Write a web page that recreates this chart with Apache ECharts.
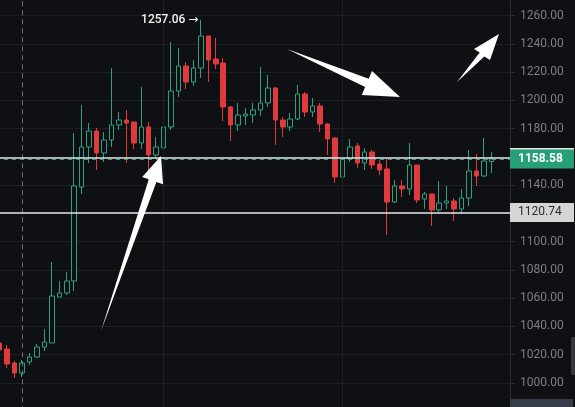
<!DOCTYPE html>
<html><head><meta charset="utf-8">
<script src="https://cdn.jsdelivr.net/npm/echarts@6/dist/echarts.min.js"></script>
<style>html,body{margin:0;padding:0;background:#0f1013;}#c{width:575px;height:407px;}</style>
</head><body><div id="c"></div>
<script>
const categories = ['1','2','3','4','5','6','7','8','9','10','11','12','13','14','15','16','17','18','19','20',
'21','22','23','24','25','26','27','28','29','30','31','32','33','34','35','36','37','38','39','40',
'41','42','43','44','45','46','47','48','49','50','51','52','53','54','55','56','57','58','59','60',
'61','62','63','64','65','66','67','68','69'];

const openV = [1028.31,1024.07,1014.16,1007.08,1014.87,1018.40,1025.48,1028.31,1060.88,1063.71,
1072.20,1138.74,1167.06,1178.38,1162.81,1172.01,1182.63,1186.17,1184.75,1169.89,
1181.21,1161.39,1166.35,1181.21,1206.70,1224.39,1213.07,1222.98,1245.63,1229.35,
1226.52,1195.37,1182.63,1189.00,1189.71,1193.25,1198.20,1208.82,1186.17,1181.21,
1186.88,1204.57,1191.83,1196.08,1183.34,1173.43,1145.82,1158.56,1167.77,1155.73,
1163.52,1155.02,1151.48,1128.12,1139.45,1137.33,1154.32,1130.25,1133.79,1122.46,
1127.42,1128.83,1123.17,1130.96,1150.07,1146.53,1156.79];

const closeV = [1023.36,1013.45,1007.08,1014.16,1018.40,1025.48,1029.02,1061.58,1063.71,1072.20,
1139.45,1167.06,1178.38,1162.81,1172.01,1182.63,1186.17,1184.05,1169.89,1181.21,
1161.39,1167.06,1181.21,1206.70,1224.39,1213.07,1222.98,1245.63,1228.64,1225.81,
1195.37,1182.63,1189.71,1190.42,1193.25,1198.20,1208.82,1186.17,1181.21,1186.88,
1204.57,1191.83,1196.08,1183.34,1172.72,1145.82,1158.56,1167.06,1155.73,1163.52,
1154.32,1150.78,1128.12,1139.45,1137.33,1154.32,1129.54,1133.79,1122.46,1127.42,
1128.83,1123.17,1130.96,1150.07,1146.53,1157.15,1158.58];

const lowV = [1021.94,1010.62,1003.54,1004.25,1012.74,1017.70,1022.65,1028.31,1060.88,1062.29,
1065.12,1133.79,1155.73,1150.78,1156.44,1167.06,1179.09,1155.73,1165.64,1165.64,
1143.70,1159.98,1164.93,1179.09,1202.45,1208.11,1210.24,1215.90,1213.07,1222.27,
1185.46,1171.30,1178.38,1182.63,1184.05,1189.00,1195.37,1168.47,1174.14,1178.38,
1186.17,1188.29,1188.29,1177.68,1161.39,1141.57,1145.11,1156.44,1152.19,1150.78,
1151.48,1147.24,1104.76,1127.42,1131.66,1133.08,1127.42,1123.17,1111.14,1121.05,
1123.17,1114.67,1119.63,1125.29,1139.45,1145.82,1148.65];

const highV = [1030.44,1026.90,1015.57,1016.28,1021.24,1027.61,1038.23,1085.65,1072.20,1078.57,
1176.97,1196.79,1184.05,1180.51,1177.68,1222.98,1191.83,1193.25,1184.75,1209.53,
1184.75,1174.14,1184.75,1241.38,1237.14,1227.23,1228.64,1257.06,1245.63,1244.22,
1230.06,1196.08,1198.20,1194.66,1198.20,1223.69,1218.02,1209.53,1188.29,1191.12,
1210.95,1205.99,1201.74,1198.20,1184.05,1174.14,1163.52,1172.72,1169.89,1166.35,
1164.93,1157.85,1158.56,1143.70,1143.70,1169.89,1154.32,1135.20,1133.79,1142.99,
1139.45,1130.96,1137.33,1164.93,1162.10,1173.43,1163.52];

const yMin = 980, yMax = 1280, yStep = 20;
const lastPrice = 1158.58;
const upperLevel = 1159.6;
const lowerLevel = 1120.74;
const crosshairIndex = 3;
const verticalGridIndices = [22, 46];

const BG = '#0f1013';
const UP = '#2fa07f';
const DOWN = '#df3a3e';
const FONT = 'Roboto, "DejaVu Sans", sans-serif';

const candleData = openV.map((o, i) => [o, closeV[i], lowV[i], highV[i]]);

const chart = echarts.init(document.getElementById('c'), null, {renderer: 'canvas'});

const priceLabel = (bg, fg, bold) => ({
  show: true, position: 'end', distance: 0,
  backgroundColor: bg, color: fg, fontSize: 12, fontFamily: FONT,
  fontWeight: bold ? 'bold' : 'normal',
  padding: [4, 8, 3, 8], width: 48, align: 'left', lineHeight: 12,
  formatter: p => p.value.toFixed(2)
});

chart.setOption({
  backgroundColor: BG,
  animation: false,
  grid: {left: -4, right: 65, top: -12.56, bottom: -4.25, containLabel: false, outerBoundsMode: 'none'},
  xAxis: {
    type: 'category', data: categories, boundaryGap: true,
    axisLine: {show: false}, axisTick: {show: false}, axisLabel: {show: false},
    splitLine: {show: false}
  },
  yAxis: {
    type: 'value', position: 'right', min: yMin, max: yMax, interval: yStep, scale: true,
    axisLine: {show: true, lineStyle: {color: '#2a2c31', width: 1}},
    axisTick: {show: true, length: 5, lineStyle: {color: '#2a2c31'}},
    axisLabel: {color: '#7c7f86', fontSize: 12, fontFamily: FONT, margin: 10,
      formatter: v => v.toFixed(2)},
    splitLine: {show: true, lineStyle: {color: '#1d1f23', width: 1}}
  },
  series: [{
    type: 'candlestick',
    data: candleData,
    barWidth: 5,
    itemStyle: {color: BG, color0: DOWN, borderColor: UP, borderColor0: DOWN, borderWidth: 1},
    markPoint: {
      silent: true, symbol: 'circle', symbolSize: 1,
      itemStyle: {color: 'rgba(0,0,0,0)'},
      data: [{type: 'max', valueDim: 'highest'}],
      label: {show: true, position: 'left', distance: 2, color: '#f2f2f2', fontSize: 12,
        fontFamily: FONT, fontWeight: 500, formatter: p => p.value.toFixed(2) + ' →'}
    },
    markLine: {
      silent: true, symbol: ['none', 'none'], animation: false,
      data: [
        ...verticalGridIndices.map(ix => ({xAxis: ix, lineStyle: {color: '#1d1f23', width: 1, type: 'solid'}, label: {show: false}})),
        {xAxis: crosshairIndex, lineStyle: {color: '#6d7077', width: 1, type: [5, 4]}, label: {show: false}},
        {yAxis: upperLevel, lineStyle: {color: '#e4e4e4', width: 1.5, type: 'solid'}, label: priceLabel('#e4e4e4', '#222', false)},
        {yAxis: lowerLevel, lineStyle: {color: '#e4e4e4', width: 1.5, type: 'solid'}, label: priceLabel('#d5d5d5', '#2a2a2a', false)},
        {yAxis: lastPrice, lineStyle: {color: '#2a9d78', width: 1, type: [4, 4]}, label: priceLabel('#27a07a', '#ffffff', true)}
      ]
    }
  }],
  graphic: [
    {type: 'polygon', silent: true, z: 100, shape: {points: [[101,331],[156.4,181.9],[163.0,184.2],[161,156],[142.2,177.0],[148.8,179.3]]}, style: {fill: '#ffffff'}},
    {type: 'polygon', silent: true, z: 100, shape: {points: [[287,49],[368.7,78.8],[372.0,70.9],[400,97],[361.8,94.9],[365.1,87.0]]}, style: {fill: '#ffffff'}},
    {type: 'polygon', silent: true, z: 100, shape: {points: [[457,82],[484.3,56.5],[490,60],[499,34],[474,49],[479.7,52.5]]}, style: {fill: '#ffffff'}},
    {type: 'rect', silent: true, z: 100, shape: {x: 510, y: 399, width: 63, height: 8}, style: {fill: '#363d48'}},
    {type: 'rect', silent: true, z: 100, shape: {x: 571, y: 337, width: 4, height: 38, r: 1}, style: {fill: '#34373d'}}
  ]
});
</script>
</body></html>
